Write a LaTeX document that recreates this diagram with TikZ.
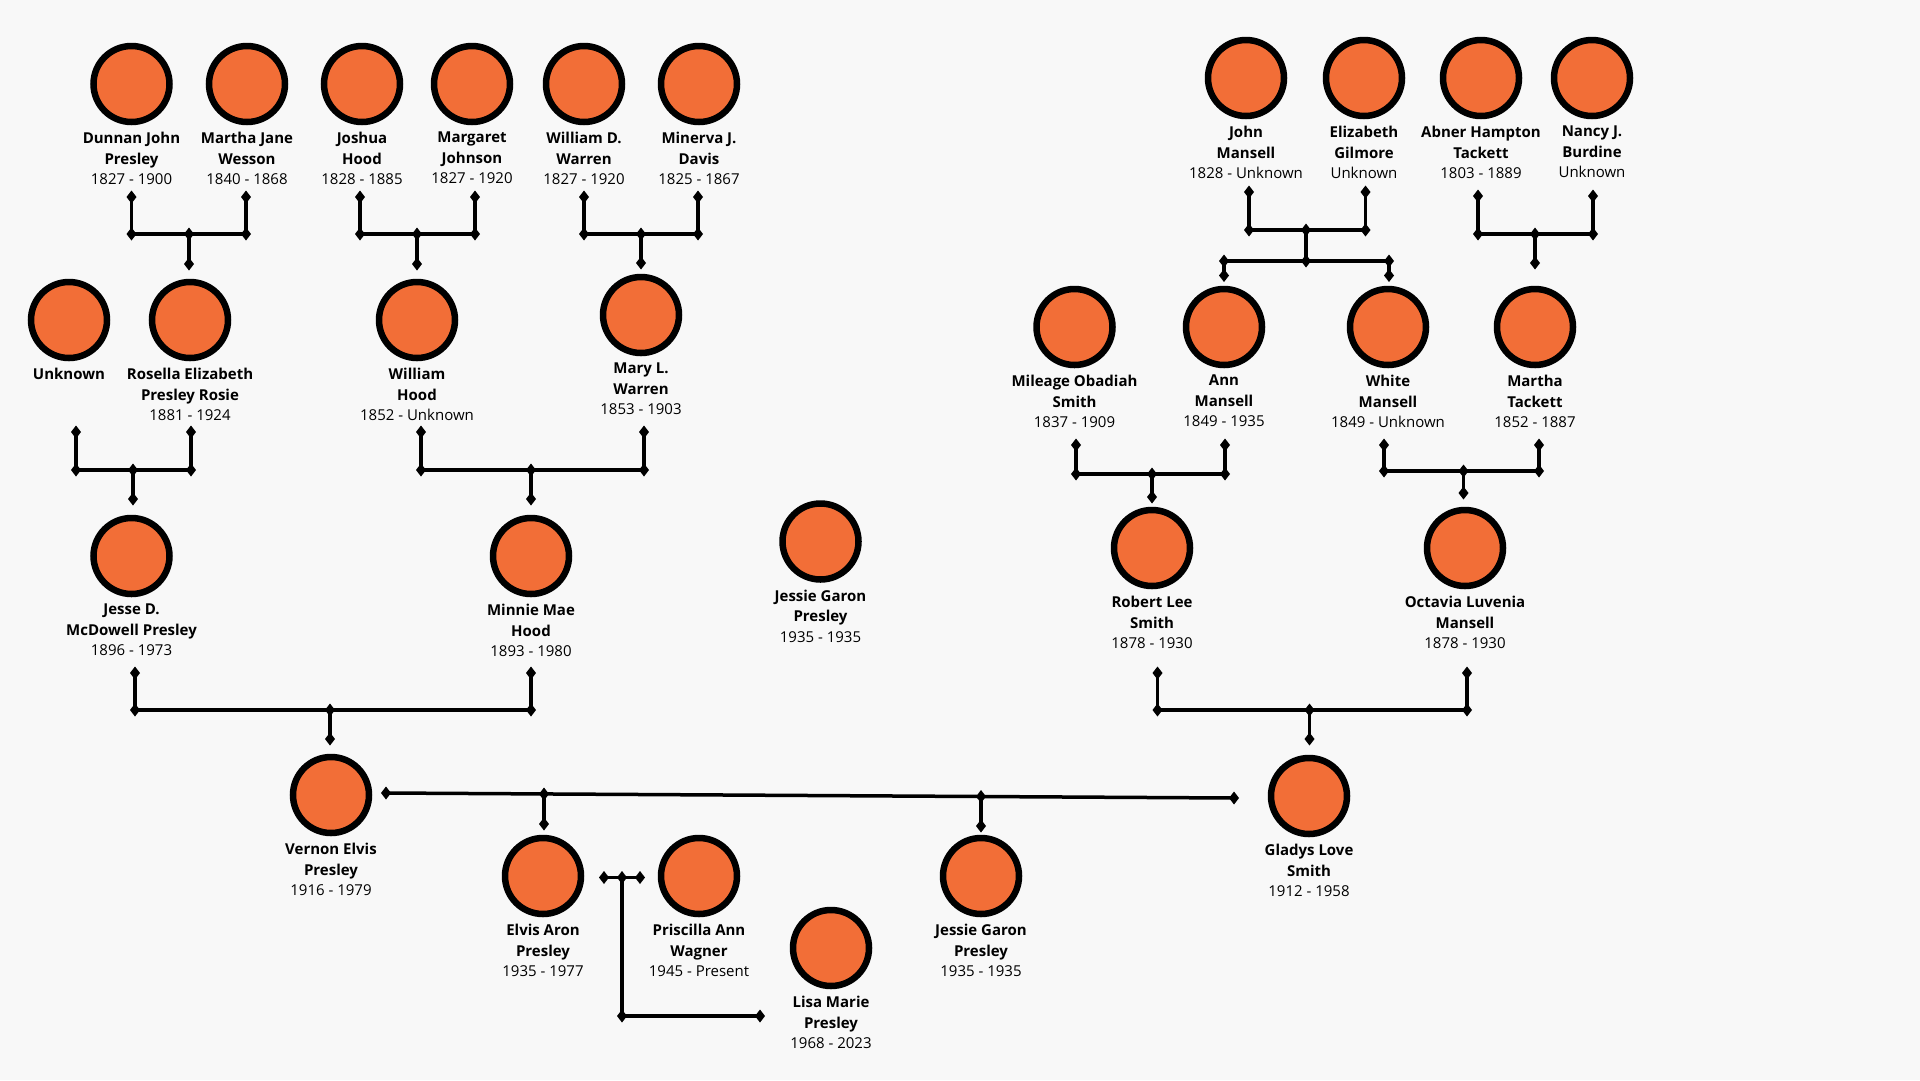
\documentclass[tikz,border=0pt]{standalone}
\usepackage{fontspec}
\setmainfont{Open Sans}
\definecolor{porange}{RGB}{242,110,55}
\definecolor{bgc}{RGB}{248,248,248}
\tikzset{
  x=1pt,y=-1pt,
  person/.style={circle, draw=black, line width=6.5pt, fill=porange, minimum size=76pt, inner sep=0pt},
  lbl/.style={anchor=north, align=center, inner sep=0pt, font=\fontsize{15}{20.5}\selectfont},
  link/.style={line width=3.5pt, line cap=butt, line join=miter},
  dmd/.pic={\fill[black] (0,-6.5) -- (5,0) -- (0,6.5) -- (-5,0) -- cycle;}
}
\newcommand\person[5]{%
  \node[person] (#1) at (#2,#3) {};
  \node[lbl] (#1l) at (#2,#3+48) {#4\\#5};}
\newcommand\famlink[7]{% prefix, xl, xr, xm, ytop, ybar, ybot
  \coordinate (#1a) at (#2,#5); \coordinate (#1b) at (#2,#6);
  \coordinate (#1c) at (#3,#6); \coordinate (#1d) at (#3,#5);
  \coordinate (#1m) at (#4,#6); \coordinate (#1k) at (#4,#7);
  \draw[link] (#1a) -- (#1b) -- (#1c) -- (#1d);
  \draw[link] (#1m) -- (#1k);
  \foreach \p in {a,b,c,d,m,k} {\pic at (#1\p) {dmd};}}
\begin{document}
\begin{tikzpicture}
\fill[bgc] (0,0) rectangle (1920,1080);
\useasboundingbox (0,0) rectangle (1920,1080);

% Row 1 left
\person{djp}{131.5}{84}{\textbf{Dunnan John}\\\textbf{Presley}}{1827 - 1900}
\person{mjw}{247}{84}{\textbf{Martha Jane}\\\textbf{Wesson}}{1840 - 1868}
\person{jh}{362}{84}{\textbf{Joshua}\\\textbf{Hood}}{1828 - 1885}
\person{mj}{472}{84}{\textbf{Margaret}\\\textbf{Johnson}}{1827 - 1920}
\person{wdw}{584}{84}{\textbf{William D.}\\\textbf{Warren}}{1827 - 1920}
\person{mjd}{699}{84}{\textbf{Minerva J.}\\\textbf{Davis}}{1825 - 1867}
% Row 1 right
\person{jm}{1246}{78}{\textbf{John}\\\textbf{Mansell}}{1828 - Unknown}
\person{eg}{1364}{78}{\textbf{Elizabeth}\\\textbf{Gilmore}}{Unknown}
\person{aht}{1481}{78}{\textbf{Abner Hampton}\\\textbf{Tackett}}{1803 - 1889}
\person{njb}{1592}{78}{\textbf{Nancy J.}\\\textbf{Burdine}}{Unknown}
% Row 2 left
\node[person] (unk) at (69,320) {};
\node[lbl] (unkl) at (69,368) {\textbf{Unknown}};
\person{rep}{190}{320}{\textbf{Rosella Elizabeth}\\\textbf{Presley Rosie}}{1881 - 1924}
\person{wh}{417}{320}{\textbf{William}\\\textbf{Hood}}{1852 - Unknown}
\person{mlw}{641}{315}{\textbf{Mary L.}\\\textbf{Warren}}{1853 - 1903}
% Row 2 right
\person{mos}{1074.5}{327}{\textbf{Mileage Obadiah}\\\textbf{Smith}}{1837 - 1909}
\person{am}{1224}{327}{\textbf{Ann}\\\textbf{Mansell}}{1849 - 1935}
\person{wm}{1388}{327}{\textbf{White}\\\textbf{Mansell}}{1849 - Unknown}
\person{mt}{1535}{327}{\textbf{Martha}\\\textbf{Tackett}}{1852 - 1887}
% Row 3
\person{jdp}{131.5}{556}{\textbf{Jesse D.}\\\textbf{McDowell Presley}}{1896 - 1973}
\person{mmh}{531}{556}{\textbf{Minnie Mae}\\\textbf{Hood}}{1893 - 1980}
\person{jgp}{820.5}{541.5}{\textbf{Jessie Garon}\\\textbf{Presley}}{1935 - 1935}
\person{rls}{1152}{548}{\textbf{Robert Lee}\\\textbf{Smith}}{1878 - 1930}
\person{olm}{1465}{548}{\textbf{Octavia Luvenia}\\\textbf{Mansell}}{1878 - 1930}
% Row 4
\person{vep}{331}{795}{\textbf{Vernon Elvis}\\\textbf{Presley}}{1916 - 1979}
\person{gls}{1309}{796}{\textbf{Gladys Love}\\\textbf{Smith}}{1912 - 1958}
% Row 5
\person{eap}{543}{876}{\textbf{Elvis Aron}\\\textbf{Presley}}{1935 - 1977}
\person{paw}{699}{876}{\textbf{Priscilla Ann}\\\textbf{Wagner}}{1945 - Present}
\person{lmp}{831}{948}{\textbf{Lisa Marie}\\\textbf{Presley}}{1968 - 2023}
\person{jgp2}{981}{876}{\textbf{Jessie Garon}\\\textbf{Presley}}{1935 - 1935}

% Family links
\famlink{fa}{131.5}{246}{189}{197}{234}{264}
\famlink{fb}{360}{475}{417}{197}{234}{264}
\famlink{fc}{584}{698}{641}{197}{234}{263}
\famlink{fd}{76}{191}{133}{432}{470}{499}
\famlink{fe}{421}{644}{531}{432}{470}{499}
\famlink{ff}{135}{531}{330}{673}{710}{739}
\famlink{fg}{1157.5}{1467}{1309.5}{673}{710}{739}
\famlink{fh}{1076}{1225}{1152}{445}{474}{497}
\famlink{fi}{1384}{1539}{1463.5}{445}{471}{493}
\famlink{fj}{1478}{1593}{1535}{196}{234}{263}
\famlink{fk}{1249}{1365.5}{1306}{192}{230}{261}
% second bar for Ann and White
\coordinate (kl) at (1224,261); \coordinate (kr) at (1389,261);
\coordinate (kl2) at (1224,275.5); \coordinate (kr2) at (1389,275.5);
\draw[link] (kl2) -- (kl) -- (kr) -- (kr2);
\foreach \p in {kl,kr,kl2,kr2} {\pic at (\p) {dmd};}

% Vernon - Gladys
\coordinate (vg1) at (386,793); \coordinate (vg2) at (1234,798);
\coordinate (vgE) at (544,794); \coordinate (vgE2) at (544,824);
\coordinate (vgJ) at (981,796.5); \coordinate (vgJ2) at (981,826);
\draw[link] (vg1) -- (vg2);
\draw[link] (vgE) -- (vgE2);
\draw[link] (vgJ) -- (vgJ2);
\foreach \p in {vg1,vg2,vgE,vgE2,vgJ,vgJ2} {\pic at (\p) {dmd};}

% Elvis - Priscilla
\coordinate (ep1) at (604,877.5); \coordinate (ep2) at (622,877.5);
\coordinate (ep3) at (640,877.5); \coordinate (ep4) at (622,1016);
\coordinate (ep5) at (760,1016);
\draw[link] (ep1) -- (ep3);
\draw[link] (ep2) -- (ep4) -- (ep5);
\foreach \p in {ep1,ep2,ep3,ep4,ep5} {\pic at (\p) {dmd};}
\end{tikzpicture}
\end{document}
